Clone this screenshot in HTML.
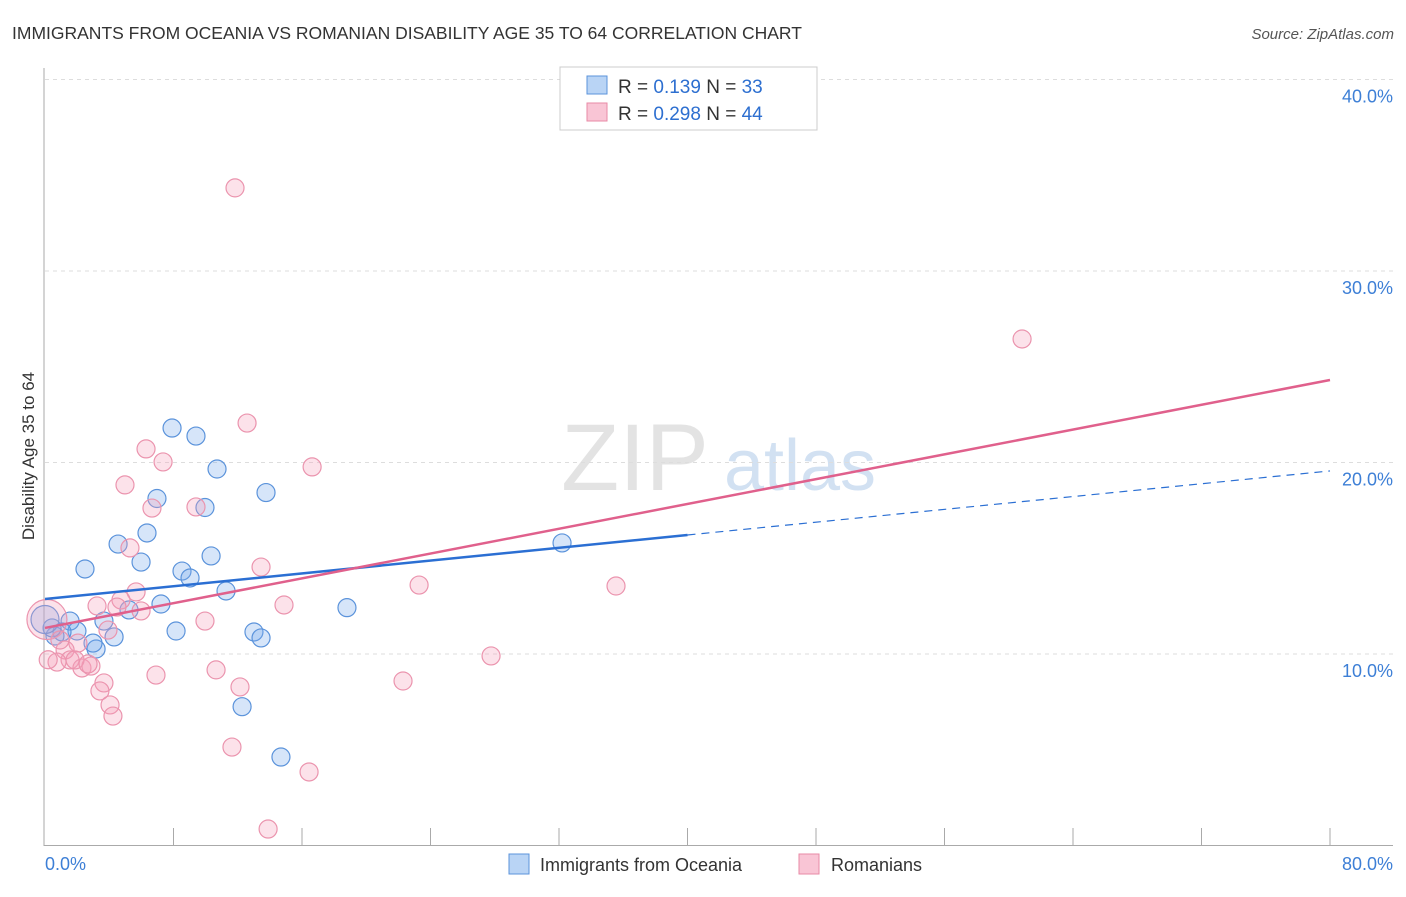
<!DOCTYPE html>
<html><head><meta charset="utf-8"><style>
body{margin:0;background:#fff;font-family:"Liberation Sans",sans-serif;}
svg text{font-family:"Liberation Sans",sans-serif;}
</style></head><body>
<svg width="1406" height="892" viewBox="0 0 1406 892" id="chart">
<text x="12" y="39" font-size="17.5" fill="#333">IMMIGRANTS FROM OCEANIA VS ROMANIAN DISABILITY AGE 35 TO 64 CORRELATION CHART</text>
<text x="1394" y="39" font-size="15" fill="#555" font-style="italic" text-anchor="end">Source: ZipAtlas.com</text>
<text x="34" y="456" font-size="17" fill="#333" text-anchor="middle" transform="rotate(-90 34 456)">Disability Age 35 to 64</text>
<g>
<text x="635" y="490" font-size="95" fill="#ddd" font-family="Liberation Serif" text-anchor="middle" opacity="0.8">ZIP</text>
<text x="800" y="490" font-size="72" fill="#c8daf0" text-anchor="middle" opacity="0.8">atlas</text>
</g>
<g id="grid"></g><g id="axes"></g><g id="points"></g><g id="lines"></g>
<g>
<rect x="560" y="67" width="257" height="63" fill="#fff" stroke="#ccc"/>
<rect x="587" y="76" width="20" height="18" fill="#b9d4f5" stroke="#5b93db"/>
<rect x="587" y="103" width="20" height="18" fill="#f9c5d5" stroke="#e88aa6"/>
<text x="618" y="93" font-size="19" fill="#333">R = <tspan fill="#2d6fd0">0.139</tspan>   N = <tspan fill="#2d6fd0">33</tspan></text>
<text x="618" y="120" font-size="19" fill="#333">R = <tspan fill="#2d6fd0">0.298</tspan>   N = <tspan fill="#2d6fd0">44</tspan></text>
</g>
<g>
<rect x="509" y="854" width="20" height="20" fill="#b9d4f5" stroke="#5b93db"/>
<text x="540" y="871" font-size="18" fill="#333">Immigrants from Oceania</text>
<rect x="799" y="854" width="20" height="20" fill="#f9c5d5" stroke="#e88aa6"/>
<text x="831" y="871" font-size="18" fill="#333">Romanians</text>
</g>
</svg>
<script>
const yTicks=[10,20,30,40];
const yTickLabels=["10.0%","20.0%","30.0%","40.0%"];
const xTickLabels=["0.0%","80.0%"];
const blueX=[7.91,9.40,10.71,6.97,9.96,13.76,6.35,4.55,5.98,2.49,8.53,9.03,10.34,11.27,7.22,5.23,3.67,1.56,1.99,1.06,0.62,4.30,8.16,13.01,13.45,3.18,2.99,12.27,14.69,18.80,32.19,0.44,0];
const blueY=[21.80,21.38,19.66,18.12,17.65,18.43,16.32,15.74,14.80,14.44,14.33,13.97,15.12,13.29,12.61,12.30,11.72,11.72,11.20,11.15,10.94,10.89,11.20,11.15,10.84,10.26,10.57,7.25,4.62,12.42,15.80,11.36,11.8];
const pinkX=[11.83,60.83,12.58,6.29,7.35,4.98,16.63,9.40,6.66,5.29,13.45,23.29,35.55,3.24,5.67,4.73,4.48,5.98,14.88,9.96,3.92,2.05,1.25,1.56,0.75,2.30,2.86,6.91,10.65,27.77,22.29,12.14,3.67,3.42,4.05,4.23,11.64,16.44,13.89,0.12,0.93,0.2,1.87,2.68];
const pinkY=[34.34,26.45,22.06,20.71,20.03,18.83,19.77,17.68,17.62,15.54,14.54,13.60,13.55,12.51,13.24,12.82,12.45,12.25,12.56,11.72,11.25,10.57,10.21,9.69,9.58,9.27,9.37,8.90,9.17,9.90,8.59,8.28,8.49,8.07,7.34,6.76,5.14,3.84,0.86,11.8,10.73,9.7,9.69,9.48];
const blueLine=[12.87,19.56]; // y at x=0 and x=80
const blueSolidEnd=40;
const pinkLine=[11.36,24.31];

const NS="http://www.w3.org/2000/svg";
const X0=45,X1=1330,Y0=845.5,PY=19.15;
const sx=v=>X0+(X1-X0)*v/80;
const sy=v=>Y0-v*PY;
function mk(tag,attrs,parent){const e=document.createElementNS(NS,tag);for(const k in attrs)e.setAttribute(k,attrs[k]);document.getElementById(parent).appendChild(e);return e;}

yTicks.forEach((t,i)=>{
  const l=mk('line',{x1:45,x2:1393,y1:sy(t),y2:sy(t),stroke:'#ddd','stroke-dasharray':'4,4'},'grid');
  
  
  const tx=mk('text',{x:1393,y:sy(t)+23,'font-size':18,fill:'#3d7fd6','text-anchor':'end'},'grid');
  tx.textContent=yTickLabels[i];
  
  
});
const ax=mk('line',{x1:44,x2:44,y1:68,y2:846,stroke:'#aaa'},'axes');


const bx=mk('line',{x1:44,x2:1393,y1:845.5,y2:845.5,stroke:'#aaa'},'axes');


for(let i=1;i<=10;i++){
  const t=mk('line',{x1:sx(i*8),x2:sx(i*8),y1:828,y2:845,stroke:'#aaa'},'axes');
  
  
}
const xl0=mk('text',{x:45,y:870,'font-size':18,fill:'#3d7fd6'},'axes');xl0.textContent=xTickLabels[0];


const xl1=mk('text',{x:1393,y:870,'font-size':18,fill:'#3d7fd6','text-anchor':'end'},'axes');xl1.textContent=xTickLabels[1];



blueX.forEach((x,i)=>{
  const big=(i===blueX.length-1);
  const c=mk('circle',{cx:sx(x),cy:sy(blueY[i]),r:big?14:9,fill:'rgba(120,170,235,0.3)',stroke:'#5b93db','stroke-width':1.2},'points');
  
  
});
pinkX.forEach((x,i)=>{
  const big=(i===39);
  const c=mk('circle',{cx:sx(x),cy:sy(pinkY[i]),r:big?20:9,fill:'rgba(245,160,185,0.3)',stroke:'#eb94ae','stroke-width':1.2},'points');
  
  
});
const bAt=x=>blueLine[0]+(blueLine[1]-blueLine[0])*x/80;
const b1=mk('line',{x1:sx(0),y1:sy(bAt(0)),x2:sx(blueSolidEnd),y2:sy(bAt(blueSolidEnd)),stroke:'#2b6fd3','stroke-width':2.5},'lines');


const b2=mk('line',{x1:sx(blueSolidEnd),y1:sy(bAt(blueSolidEnd)),x2:sx(80),y2:sy(bAt(80)),stroke:'#2b6fd3','stroke-width':1.2,'stroke-dasharray':'8,6'},'lines');


const p1=mk('line',{x1:sx(0),y1:sy(pinkLine[0]),x2:sx(80),y2:sy(pinkLine[1]),stroke:'#e0608c','stroke-width':2.5},'lines');


</script>
</body></html>
